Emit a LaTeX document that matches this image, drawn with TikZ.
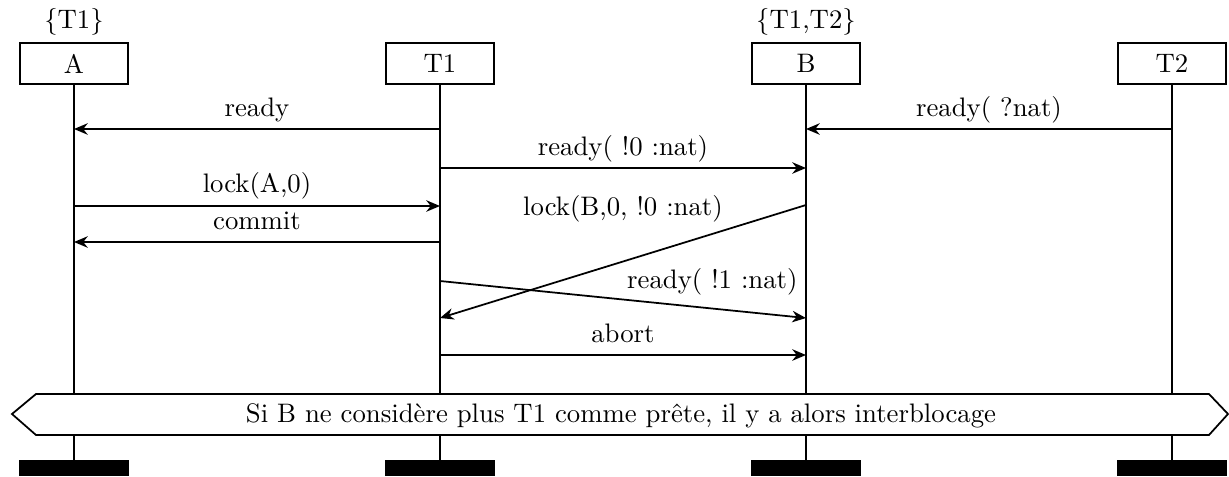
\documentclass[tikz,border=0pt]{standalone}
\usetikzlibrary{arrows.meta}
\begin{document}
\begin{tikzpicture}[x=0.4pt,y=-0.4pt,
  every node/.style={font=\fontsize{10.7pt}{13pt}\selectfont},
  inst/.style={draw, line width=0.7pt, minimum width=43.2pt, minimum height=16.4pt, inner sep=0pt},
  setlbl/.style={inner sep=0pt},
  msg/.style={line width=0.7pt, -{Stealth[length=5.5pt,width=4.6pt,inset=1.8pt]}},
  life/.style={line width=0.7pt},
  lbl/.style={inner sep=0pt, anchor=base},
  bar/.style={fill=black}]
\useasboundingbox (0,0) rectangle (1229,476);
% instances
\node[inst] (A)  at (74,63.5)   {A};
\node[inst] (T1) at (440,63.5)  {T1};
\node[inst] (B)  at (806,63.5)  {B};
\node[inst] (T2) at (1172,63.5) {T2};
\node[setlbl] (Aset) at (74,22) {\{T1\}};
\node[setlbl] (Bset) at (806,22) {\{T1,T2\}};
% lifeline coordinates
\foreach \n/\x in {A/74,T1/440,B/806,T2/1172}{
  \coordinate (\n-top) at (\x,394);
  \coordinate (\n-bot) at (\x,435);
  \coordinate (\n-end) at (\x,460);
  \draw[life] (\n.south) -- (\n-top);
  \draw[life] (\n-bot) -- (\n-end);
  \fill[bar] (\x-55,460) rectangle (\x+55,476);
}
% message end points
\coordinate (A1) at (74,129);   \coordinate (T11) at (440,129);
\coordinate (B1) at (806,129);  \coordinate (T21) at (1172,129);
\coordinate (T12) at (440,168); \coordinate (B2) at (806,168);
\coordinate (A3) at (74,206);   \coordinate (T13) at (440,206);
\coordinate (A4) at (74,242);   \coordinate (T14) at (440,242);
\coordinate (B5) at (806,205);  \coordinate (T15) at (440,318);
\coordinate (T16) at (440,281); \coordinate (B6) at (806,318);
\coordinate (T17) at (440,355); \coordinate (B7) at (806,355);
% messages
\draw[msg] (T11) -- (A1);
\node[lbl] (m1) at (257,116) {ready};
\draw[msg] (T21) -- (B1);
\node[lbl] (m2) at (989,116) {ready( ?nat)};
\draw[msg] (T12) -- (B2);
\node[lbl] (m3) at (623,155) {ready( !0 :nat)};
\draw[msg] (A3) -- (T13);
\node[lbl] (m4) at (257,192) {lock(A,0)};
\draw[msg] (T14) -- (A4);
\node[lbl] (m5) at (257,229) {commit};
\draw[msg] (B5) -- (T15);
\node[lbl] (m6) at (623,215) {lock(B,0, !0 :nat)};
\draw[msg] (T16) -- (B6);
\node[lbl, anchor=base east] (m7) at (798,288) {ready( !1 :nat)};
\draw[msg] (T17) -- (B7);
\node[lbl] (m8) at (623,342) {abort};
% condition
\draw[line width=0.7pt] (36,394) -- (1209,394) -- (1228,414) -- (1209,435) -- (36,435) -- (12,414) -- cycle;
\node[lbl] (cond) at (621,422) {Si B ne considère plus T1 comme prête, il y a alors interblocage};
\end{tikzpicture}
\end{document}
